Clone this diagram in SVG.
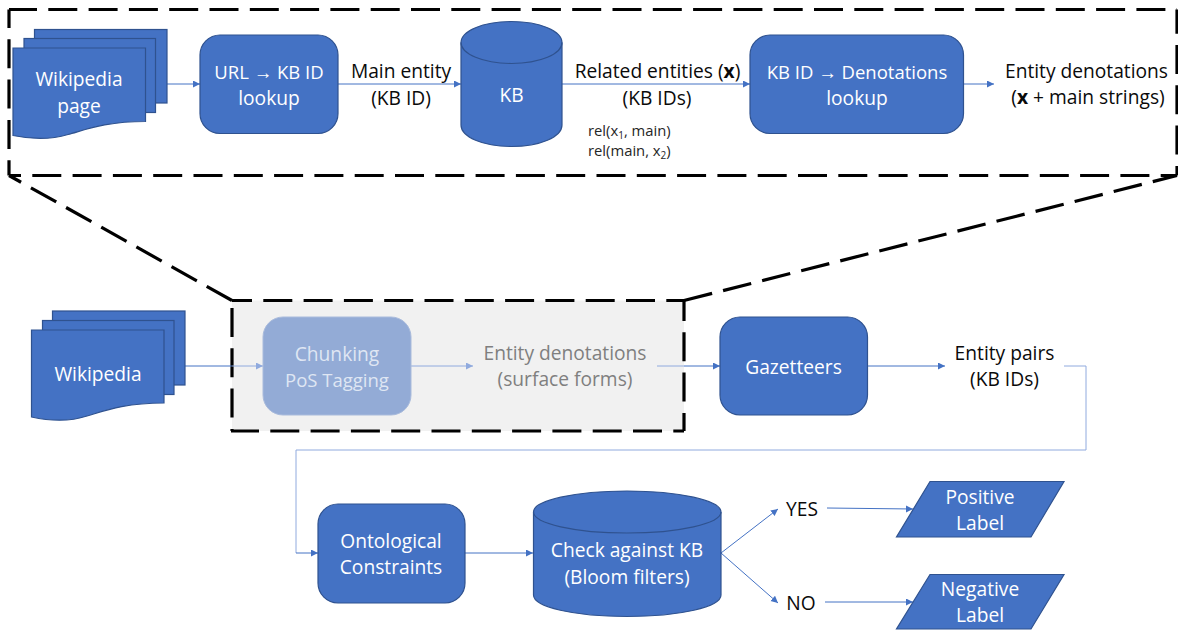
<svg xmlns="http://www.w3.org/2000/svg" width="1178" height="631" viewBox="0 0 1178 631">
<style>
text{font-family:"Open Sans","Noto Sans","Liberation Sans",sans-serif;font-size:19.2px;text-anchor:middle}
.w{fill:#fff}.k{fill:#0a0a0a}.g{fill:#7f7f7f}
.s{fill:#4472c4;stroke:#2f528f;stroke-width:1.2}
.d{fill:none;stroke:#000;stroke-width:3.2;stroke-dasharray:29 11.3}
.c{fill:none;stroke:#4472c4;stroke-width:1;}
.l{fill:none;stroke:#90aade;stroke-width:1}
.ar{font-family:"Liberation Sans",sans-serif}
text.sm{font-size:14.8px;text-anchor:start;fill:#262626}
text.t{font-size:18.500px}
.sub{font-size:10px}
</style>
<defs>
<marker id="a" markerUnits="userSpaceOnUse" markerWidth="8" markerHeight="8" refX="7" refY="3.5" orient="auto"><path d="M0 0L7 3.5L0 7Z" fill="#4472c4"/></marker>
<marker id="b" markerUnits="userSpaceOnUse" markerWidth="8" markerHeight="8" refX="7" refY="3.5" orient="auto"><path d="M0 0L7 3.5L0 7Z" fill="#90aade"/></marker>
</defs>
<g id="zoom-frame">
<path class="d" stroke-dashoffset="1" d="M9 9.500H1177"/>
<path class="d" stroke-dashoffset="10.500" d="M9 9.500V175.500"/>
<path class="d" stroke-dashoffset="4.800" d="M1177 9.500V175.500"/>
<path class="d" stroke-dashoffset="17" d="M9 175.500H1177"/>
</g>
<g id="zoom-lines"><path class="d" d="M232 300.500L9 175.500"/><path class="d" d="M684 300.500L1177 175.500"/></g>
<g id="pipeline-frame"><rect x="232" y="300.500" width="452" height="130.500" fill="#f1f1f1"/>
<path class="d" stroke-dashoffset="9" d="M232 300.500H684"/>
<path class="d" stroke-dashoffset="32.800" d="M232 300.500V431"/>
<path class="d" stroke-dashoffset="8.500" d="M684 300.500V431"/>
<path class="d" stroke-dashoffset="1" d="M231 431H684"/>
</g>
<g id="connectors">
<path class="c" marker-end="url(#a)" d="M167 84H200"/>
<path class="c" marker-end="url(#a)" d="M338 84H461"/>
<path class="c" marker-end="url(#a)" d="M562 84H750"/>
<path class="c" marker-end="url(#a)" d="M963 84H994"/>
<path class="c" d="M185 366H232"/>
<path class="l" marker-end="url(#b)" d="M232 366H263"/>
<path class="l" marker-end="url(#b)" d="M411 366H473"/>
<path class="l" d="M657 366H684"/>
<path class="c" marker-end="url(#a)" d="M684 366H720"/>
<path class="c" marker-end="url(#a)" d="M867 366H945"/>
<path class="l" stroke-width="1.200" d="M1064 366H1086V450H296V553"/>
<path class="c" marker-end="url(#a)" d="M296 553H318"/>
<path class="c" marker-end="url(#a)" d="M465 553H533"/>
<path class="c" marker-end="url(#a)" d="M721 553L778 509"/>
<path class="c" marker-end="url(#a)" d="M721 553L778 603"/>
<path class="c" marker-end="url(#a)" d="M827 508L913 509"/>
<path class="c" marker-end="url(#a)" d="M825 602L913 602"/>
</g>
<g id="wikipedia-page">
<rect class="s" x="34.500" y="29.500" width="132.500" height="73.500"/>
<rect class="s" x="24" y="38.500" width="131.500" height="74"/>
<path class="s" d="M13 48H145.500V121.500C105 121.500 85 130 68 134.500C50 140 30 139 13 135.500Z"/>
<text class="w" x="79" y="86">Wikipedia</text><text class="w" x="79" y="113">page</text>
</g>
<g id="url-lookup"><rect class="s" x="200" y="35" width="138" height="98.500" rx="20"/><text class="w t" x="269" y="79">URL <tspan class="ar">→</tspan> KB ID</text><text class="w" x="269" y="105">lookup</text></g>
<g id="main-entity-label"><text class="k" x="401" y="78">Main entity</text><text class="k" x="401" y="105">(KB ID)</text></g>
<g id="kb"><path class="s" d="M461 42.500C461 31 483 21.500 511.500 21.500S562 31 562 42.500V125C562 137 540 146.500 511.500 146.500S461 137 461 125Z"/><path fill="none" stroke="#2f528f" stroke-width="1.200" d="M461 42.500C461 54 483 63.500 511.500 63.500S562 54 562 42.500"/><text class="w" x="511.500" y="102">KB</text></g>
<g id="related-label"><text class="k" x="657.500" y="78">Related entities (<tspan font-weight="700">x</tspan>)</text><text class="k" x="657" y="105">(KB IDs)</text>
<text class="sm" x="588" y="136">rel(x<tspan class="sub" dy="3">1</tspan><tspan dy="-3">, main)</tspan></text><text class="sm" x="588" y="156">rel(main, x<tspan class="sub" dy="3">2</tspan><tspan dy="-3">)</tspan></text></g>
<g id="denotations-lookup"><rect class="s" x="750" y="35" width="213.500" height="98.500" rx="20"/><text class="w t" x="857" y="79">KB ID <tspan class="ar">→</tspan> Denotations</text><text class="w" x="857" y="105">lookup</text></g>
<g id="entity-denotations"><text class="k" x="1086.500" y="78">Entity denotations</text><text class="k" x="1088" y="104">(<tspan font-weight="700">x</tspan> + main strings)</text></g>
<g id="wikipedia">
<rect class="s" x="52.500" y="311" width="132.500" height="74"/>
<rect class="s" x="42.500" y="320.500" width="131.500" height="74"/>
<path class="s" d="M31.500 330H164V403C124 403 104 411 87 416C69 422 50 421 31.500 417Z"/>
<text class="w" x="98" y="381">Wikipedia</text>
</g>
<g id="chunking"><rect x="263" y="317" width="148" height="98" rx="20" fill="#93abd6" stroke="#a9bbdc" stroke-width="1"/><text x="337" y="361" fill="#dfe6f3">Chunking</text><text class="t" x="337" y="387" fill="#dfe6f3">PoS Tagging</text></g>
<g id="surface-forms"><text class="g" x="565" y="360">Entity denotations</text><text class="g" x="565" y="386">(surface forms)</text></g>
<g id="gazetteers"><rect class="s" x="720" y="317" width="147.500" height="98" rx="20"/><text class="w" x="793.500" y="374">Gazetteers</text></g>
<g id="entity-pairs"><text class="k" x="1004.500" y="360">Entity pairs</text><text class="k" x="1004.500" y="386">(KB IDs)</text></g>
<g id="ontological"><rect class="s" x="318" y="504" width="147" height="99" rx="20"/><text class="w" x="391" y="548">Ontological</text><text class="w" x="391" y="574">Constraints</text></g>
<g id="check-kb"><path class="s" d="M533.500 512C533.500 500.500 575 491 627 491S721 500.500 721 512V595C721 607 680 616.500 627 616.500S533.500 607 533.500 595Z"/><path fill="none" stroke="#2f528f" stroke-width="1.200" d="M533.500 512C533.500 523.500 575 533 627 533S721 523.500 721 512"/><text class="w" x="627" y="557">Check against KB</text><text class="w" x="627" y="584">(Bloom filters)</text></g>
<g id="yes"><text class="k" x="802" y="516">YES</text></g>
<g id="no"><text class="k" x="801" y="610">NO</text></g>
<g id="positive"><path class="s" d="M930 481.500H1064L1031 537H896.500Z"/><text class="w" x="980" y="504">Positive</text><text class="w" x="980" y="530">Label</text></g>
<g id="negative"><path class="s" d="M930 574.500H1064L1031 629H896.500Z"/><text class="w" x="980" y="596">Negative</text><text class="w" x="980" y="622">Label</text></g>
</svg>
